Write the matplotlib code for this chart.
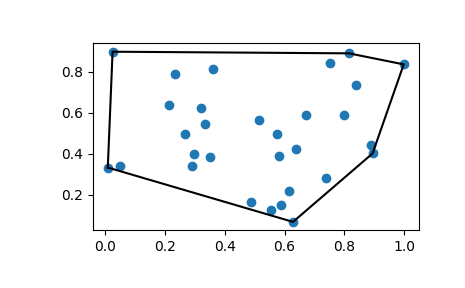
import numpy as np
import matplotlib
matplotlib.use("Agg")
import matplotlib.pyplot as plt

# point coordinates
xs = [0.025, 0.232, 0.361, 0.215, 0.319, 0.334, 0.267, 0.298, 0.351, 0.513,
      0.815, 0.752, 0.998, 0.838, 0.671, 0.798, 0.575, 0.638, 0.582, 0.890,
      0.894, 0.009, 0.049, 0.289, 0.488, 0.738, 0.614, 0.554, 0.588, 0.628]
ys = [0.899, 0.792, 0.816, 0.640, 0.625, 0.547, 0.498, 0.400, 0.383, 0.563,
      0.891, 0.842, 0.837, 0.734, 0.591, 0.591, 0.498, 0.421, 0.387, 0.440,
      0.401, 0.332, 0.342, 0.341, 0.164, 0.282, 0.218, 0.125, 0.150, 0.066]


def convex_hull(pts):
    # monotone chain
    pts = sorted(pts)

    def cross(o, a, b):
        return (a[0] - o[0]) * (b[1] - o[1]) - (a[1] - o[1]) * (b[0] - o[0])

    lower = []
    for p in pts:
        while len(lower) >= 2 and cross(lower[-2], lower[-1], p) <= 0:
            lower.pop()
        lower.append(p)
    upper = []
    for p in reversed(pts):
        while len(upper) >= 2 and cross(upper[-2], upper[-1], p) <= 0:
            upper.pop()
        upper.append(p)
    return lower[:-1] + upper[:-1]


points = np.column_stack([xs, ys])
hull = convex_hull([tuple(p) for p in points])
hull.append(hull[0])
hull = np.array(hull)

fig = plt.figure(figsize=(4.65, 2.88), dpi=100)
ax = fig.add_axes([0.2, 0.2, 0.7, 0.65])
ax.plot(points[:, 0], points[:, 1], 'o')
ax.plot(hull[:, 0], hull[:, 1], 'k-')
ax.set_xticks([0.0, 0.2, 0.4, 0.6, 0.8, 1.0])
ax.set_yticks([0.2, 0.4, 0.6, 0.8])
fig.savefig("out.png", dpi=100)
